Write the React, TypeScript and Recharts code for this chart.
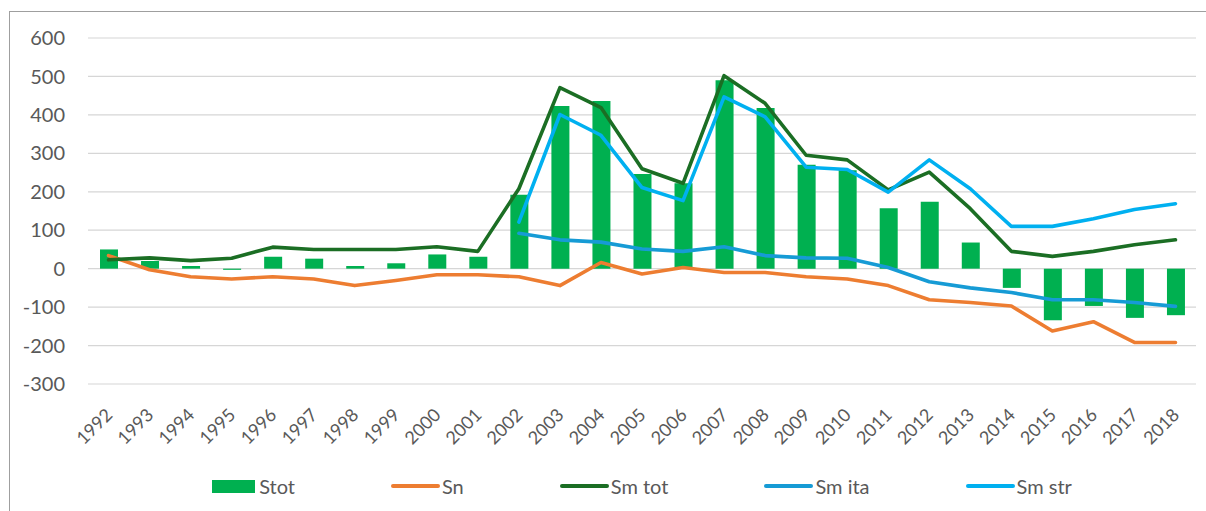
import React from 'react';
import { ComposedChart, Bar, Line, XAxis, YAxis, CartesianGrid } from 'recharts';

const years = [
  '1992', '1993', '1994', '1995', '1996', '1997', '1998', '1999', '2000', '2001',
  '2002', '2003', '2004', '2005', '2006', '2007', '2008', '2009', '2010', '2011',
  '2012', '2013', '2014', '2015', '2016', '2017', '2018',
];

// Stot (bars)
const stot = [50, 20, 7, -3, 31, 26, 7, 14, 37, 31, 192, 423, 436, 246, 222, 490, 418, 270, 256, 157, 174, 68, -50, -134, -97, -128, -121];
const sn = [34, -3, -21, -27, -21, -27, -44, -31, -16, -16, -21, -44, 16, -14, 3, -10, -10, -21, -27, -44, -81, -88, -97, -162, -138, -192, -192];
const smTot = [23, 28, 21, 27, 56, 50, 50, 50, 57, 45, 208, 471, 419, 260, 222, 502, 430, 295, 283, 205, 251, 156, 45, 32, 45, 62, 75];
const smIta = [null, null, null, null, null, null, null, null, null, null, 92, 75, 69, 51, 45, 57, 34, 28, 27, 3, -34, -50, -62, -81, -81, -88, -98];
const smStr = [null, null, null, null, null, null, null, null, null, null, 121, 401, 347, 211, 177, 447, 395, 264, 258, 199, 283, 208, 110, 110, 130, 154, 169];

const yTicks = [-300, -200, -100, 0, 100, 200, 300, 400, 500, 600];

const series = [
  { key: 'stot', name: 'Stot', color: '#00b050', type: 'bar' },
  { key: 'sn', name: 'Sn', color: '#ed7d31', type: 'line' },
  { key: 'smTot', name: 'Sm tot', color: '#1b6e24', type: 'line' },
  { key: 'smIta', name: 'Sm ita', color: '#169bd5', type: 'line' },
  { key: 'smStr', name: 'Sm str', color: '#00b0f0', type: 'line' },
];

const data = years.map((year, i) => ({
  year,
  stot: stot[i],
  sn: sn[i],
  smTot: smTot[i],
  smIta: smIta[i],
  smStr: smStr[i],
}));

const FONT = 'Lato, "Open Sans", sans-serif';
const TEXT = '#595959';

const YearTick = (props: any) => {
  const { x, y, payload } = props;
  const ax = x + 5;
  const ay = y + 32;
  return (
    <text
      x={ax}
      y={ay}
      textAnchor="end"
      transform={`rotate(-45, ${ax}, ${ay})`}
      fill={TEXT}
      fontSize={18}
      fontFamily={FONT}
    >
      {payload.value}
    </text>
  );
};

const LegendRow = () => (
  <div
    style={{
      position: 'absolute',
      left: 88,
      width: 1108,
      top: 472,
      height: 28,
      display: 'flex',
      justifyContent: 'center',
      alignItems: 'center',
      gap: 96,
      fontFamily: FONT,
      fontSize: 20,
      color: TEXT,
    }}
  >
    {series.map(s => (
      <div key={s.key} style={{ display: 'flex', alignItems: 'center' }}>
        {s.type === 'bar' ? (
          <div style={{ width: 43, height: 13, background: s.color, marginRight: 4 }} />
        ) : (
          <div style={{ width: 49, height: 4, borderRadius: 2, background: s.color, marginRight: 2 }} />
        )}
        <span>{s.name}</span>
      </div>
    ))}
  </div>
);

export default function App() {
  return (
    <div style={{ position: 'absolute', left: 0, top: 0, width: 1206, height: 511, overflow: 'hidden', background: '#fff' }}>
      <div
        style={{
          position: 'absolute',
          left: 9,
          top: 11,
          width: 1400,
          height: 700,
          borderLeft: '1px solid #9f9f9f',
          borderTop: '1px solid #9f9f9f',
        }}
      />
      <ComposedChart
        width={1206}
        height={511}
        data={data}
        margin={{ top: 38, right: 10, left: 0, bottom: 67 }}
        style={{ position: 'absolute', left: 0, top: 0 }}
      >
        <CartesianGrid vertical={false} stroke="#d6d6d6" strokeWidth={1.2} />
        <XAxis
          dataKey="year"
          interval={0}
          height={60}
          tickLine={false}
          axisLine={false}
          tickSize={0}
          tickMargin={0}
          tick={<YearTick />}
        />
        <YAxis
          width={88}
          domain={[-300, 600]}
          ticks={yTicks}
          interval={0}
          tickLine={false}
          axisLine={false}
          tickSize={0}
          tickMargin={23}
          tick={{ fill: TEXT, fontSize: 20, fontFamily: FONT }}
        />
        <Bar dataKey="stot" name="Stot" fill="#00b050" barSize={18} isAnimationActive={false} />
        {series
          .filter(s => s.type === 'line')
          .map(s => (
            <Line
              key={s.key}
              type="linear"
              dataKey={s.key}
              name={s.name}
              stroke={s.color}
              strokeWidth={3.6}
              strokeLinejoin="round"
              strokeLinecap="round"
              dot={false}
              activeDot={false}
              connectNulls={false}
              isAnimationActive={false}
            />
          ))}
      </ComposedChart>
      <LegendRow />
    </div>
  );
}
